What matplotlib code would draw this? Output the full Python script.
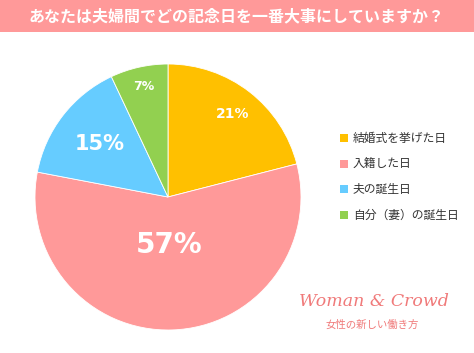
import numpy as np
import matplotlib.pyplot as plt
from matplotlib.patches import Rectangle

plt.rcParams['font.family'] = ['Noto Sans CJK JP', 'DejaVu Sans']

title = "あなたは夫婦間でどの記念日を一番大事にしていますか？"
labels = ["結婚式を挙げた日", "入籍した日", "夫の誕生日", "自分（妻）の誕生日"]
values = [21, 57, 15, 7]
colors = ["#ffc000", "#ff9999", "#66ccff", "#92d050"]

# per-slice label placement / size
label_dist = [0.79, 0.36, 0.65, 0.85]
label_size = [10, 20, 15, 9]

W, H = 474, 353
fig = plt.figure(figsize=(W / 100, H / 100), dpi=100)
ax = fig.add_axes([0, 0, 1, 1])

# header band
ax.add_patch(Rectangle((0, H - 32), W, 32, color="#ff9999", lw=0))
ax.text(W / 2, H - 16, title, color="white", fontsize=11.5, fontweight="bold",
        ha="center", va="center")

cx, cy, r = 168, 156, 133
wedges, _ = ax.pie(values, colors=colors, startangle=90, counterclock=False,
                   center=(cx, cy), radius=r, frame=True,
                   wedgeprops=dict(edgecolor="white", linewidth=0.6))
ax.set_xlim(0, W)
ax.set_ylim(0, H)
ax.set_aspect('equal')
ax.axis('off')

for w, v, d, s in zip(wedges, values, label_dist, label_size):
    ang = np.deg2rad((w.theta1 + w.theta2) / 2)
    ax.text(cx + d * r * np.cos(ang), cy + d * r * np.sin(ang), f"{v}%",
            color="white", fontsize=s, fontweight="bold",
            family="DejaVu Sans", ha="center", va="center")

# legend
for i, (lab, c) in enumerate(zip(labels, colors)):
    y = H - 138 - i * 25.7
    ax.add_patch(Rectangle((340, y - 4), 8, 8, color=c, lw=0))
    ax.text(353, y, lab, fontsize=8.5, color="#333333", ha="left", va="center")

# logo
ax.text(374, H - 301, "Woman & Crowd", color="#f07a7a", fontsize=12.5,
        style="italic", family="DejaVu Serif", ha="center", va="center")
ax.text(372, H - 325, "女性の新しい働き方", color="#f07a7a", fontsize=7.5,
        ha="center", va="center")

fig.savefig("out.png", dpi=100)
